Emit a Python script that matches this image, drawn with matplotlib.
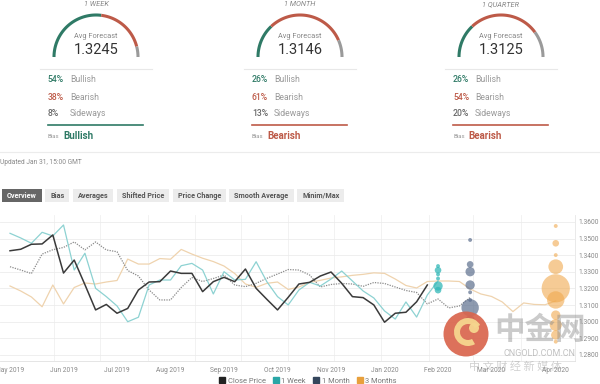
import numpy as np
import pandas as pd
import matplotlib
matplotlib.use('Agg')
import matplotlib.pyplot as plt
from matplotlib.patches import Circle, Wedge, FancyBboxPatch
from matplotlib.lines import Line2D

plt.rcParams['font.family'] = ['Roboto', 'DejaVu Sans']

# --- poll summary ---
horizons = ['1 WEEK', '1 MONTH', '1 QUARTER']
avg_forecast = [1.3245, 1.3146, 1.3125]
bullish = [54, 26, 26]
bearish = [38, 61, 54]
sideways = [8, 13, 20]
bias = ['Bullish', 'Bearish', 'Bearish']

tabs = ['Overview', 'Bias', 'Averages', 'Shifted Price', 'Price Change',
        'Smooth Average', 'Minim/Max']

# --- weekly series (week 0 = 3 May 2019) ---
close_price = [1.3427, 1.3436, 1.3466, 1.3468, 1.3522, 1.3293, 1.3371, 1.3223, 1.3071, 1.3104,
               1.3051, 1.3080, 1.3191, 1.3239, 1.3241, 1.3305, 1.3291, 1.3291, 1.3181, 1.3241,
               1.3267, 1.3241, 1.3317, 1.3201, 1.3135, 1.3071, 1.3147, 1.3227, 1.3237, 1.3275,
               1.3299, 1.3231, 1.3151, 1.3145, 1.3101, 1.2997, 1.3051, 1.3057, 1.3120, 1.3221]
week_avg = [1.3532, 1.3504, 1.3472, 1.3538, 1.3516, 1.3582, 1.3311, 1.3412, 1.3201, 1.3151,
            1.3095, 1.3000, 1.3027, 1.3221, 1.3251, 1.3251, 1.3337, 1.3351, 1.3311, 1.3167,
            1.3301, 1.3251, 1.3255, 1.3361, 1.3241, 1.3151, 1.3101, 1.3191, 1.3237, 1.3215,
            1.3257, 1.3305, 1.3245, 1.3185, 1.3143, 1.3065, 1.3016, 1.3119, 1.3028, 1.3161, 1.3245]
month_avg = [1.3331, 1.3311, 1.3290, 1.3407, 1.3433, 1.3447, 1.3480, 1.3432, 1.3480, 1.3432,
             1.3421, 1.3308, 1.3275, 1.3191, 1.3131, 1.3131, 1.3206, 1.3266, 1.3242, 1.3260,
             1.3281, 1.3221, 1.3211, 1.3231, 1.3261, 1.3287, 1.3314, 1.3311, 1.3281, 1.3209,
             1.3224, 1.3230, 1.3227, 1.3213, 1.3236, 1.3230, 1.3209, 1.3188, 1.3176, 1.3107,
             1.3137, 1.3083, 1.3095, 1.3146]
quarter_avg = [1.3215, 1.3185, 1.3149, 1.3090, 1.3221, 1.3107, 1.3206, 1.3233, 1.3227, 1.3239,
               1.3248, 1.3377, 1.3347, 1.3347, 1.3380, 1.3376, 1.3435, 1.3407, 1.3382, 1.3362,
               1.3335, 1.3290, 1.3227, 1.3207, 1.3231, 1.3239, 1.3194, 1.3209, 1.3236, 1.3249,
               1.3263, 1.3270, 1.3279, 1.3285, 1.3294, 1.3291, 1.3257, 1.3218, 1.3203, 1.3242,
               1.3245, 1.3245, 1.3242, 1.3197, 1.3167, 1.3152, 1.3119, 1.3061, 1.3113, 1.3104,
               1.3102, 1.3125]

# individual forecasts (value, number of participants)
week_fc = [1.3335, 1.3310, 1.3285, 1.3260, 1.3215, 1.3190]
week_cnt = [1, 2, 1, 1, 3, 2]
month_fc = [1.3492, 1.3345, 1.3301, 1.3221, 1.3177, 1.3131, 1.3084, 1.3010, 1.2970]
month_cnt = [1, 2, 3, 3, 1, 1, 6, 3, 1]
quarter_fc = [1.3576, 1.3472, 1.3401, 1.3331, 1.3201, 1.3131, 1.3040, 1.2980, 1.2920, 1.2880]
quarter_cnt = [1, 2, 1, 5, 10, 6, 3, 4, 3, 1]

tick_weeks = [0, 5, 10, 15, 20, 25, 30, 35, 40, 45, 51]
tick_labels = ['May 2019', 'Jun 2019', 'Jul 2019', 'Aug 2019', 'Sep 2019', 'Oct 2019',
               'Nov 2019', 'Jan 2020', 'Feb 2020', 'Mar 2020', 'Apr 2020']

series_names = ['Close Price', '1 Week', '1 Month', '3 Months']

GREEN, RED, GREY = '#2f7a66', '#bd5a48', '#9a9a9a'
bias_col = {'Bullish': GREEN, 'Bearish': RED}

fig = plt.figure(figsize=(6, 3.84), dpi=100)

# ---------- top panel (pixel coordinates) ----------
top = fig.add_axes([0, 0, 1, 1])
top.set_xlim(0, 600)
top.set_ylim(384, 0)
top.axis('off')

centers = [96, 300, 501]
for k, cx in enumerate(centers):
    cy, r = 57, 42
    parts = [bullish[k], bearish[k], sideways[k]]
    cols = [GREEN, RED, GREY]
    start = np.pi
    for p, c in zip(parts, cols):
        end = start - np.pi * p / 100
        t = np.linspace(start, end, 60)
        top.plot(cx + r * np.cos(t), cy - r * np.sin(t), color=c, lw=2.2,
                 solid_capstyle='butt')
        start = end
    top.text(cx, 4.5, horizons[k], ha='center', va='center', fontsize=5.3,
             style='italic', color='#888')
    top.text(cx, 37, 'Avg Forecast', ha='center', va='center', fontsize=5.3, color='#888')
    top.text(cx, 50, f'{avg_forecast[k]:.4f}', ha='center', va='center', fontsize=10.5,
             color='#333')
    top.plot([cx - 56, cx + 56], [69, 69], color='#e8e8e8', lw=0.8)
    rows = [(bullish[k], 'Bullish', GREEN), (bearish[k], 'Bearish', RED),
            (sideways[k], 'Sideways', '#666')]
    for j, (v, lab, c) in enumerate(rows):
        y = 80 + 17 * j
        top.text(cx - 48, y, f'{v}%', ha='left', va='center', fontsize=6.2,
                 color=c, fontweight='medium')
        top.text(cx - 26, y, lab, ha='left', va='center', fontsize=6.2, color='#999')
    top.plot([cx - 48, cx + 47], [125, 125], color=bias_col[bias[k]], lw=1.2)
    top.text(cx - 48, 136.5, 'Bias', ha='left', va='center', fontsize=4.3, color='#999')
    top.text(cx - 33, 136, bias[k], ha='left', va='center', fontsize=7,
             fontweight='bold', color=bias_col[bias[k]])

top.plot([0, 600], [152, 152], color='#ececec', lw=0.8)
top.text(0, 163, 'Updated Jan 31, 15:00 GMT', ha='left', va='center', fontsize=4.8,
         color='#888')

# tab buttons
fig.canvas.draw()
renderer = fig.canvas.get_renderer()
xc = 1.7
for i, name in enumerate(tabs):
    active = i == 0
    t = top.text(xc + 5, 195.5, name, ha='left', va='center', fontsize=5.2,
                 fontweight='bold', color='white' if active else '#555', zorder=3)
    w = t.get_window_extent(renderer=renderer).width
    top.add_patch(FancyBboxPatch((xc, 189.3), w + 10, 12.4,
                                 boxstyle='square,pad=0', lw=0,
                                 facecolor='#666' if active else '#ececec', zorder=2))
    xc += w + 10 + 3.5

# ---------- main chart ----------
ax = fig.add_axes([0, 23 / 384, 575 / 600, 146 / 384], facecolor='none')

ax.plot(np.arange(len(quarter_avg)), quarter_avg, color='#efd3ae', lw=0.9, zorder=2)
ax.plot(np.arange(len(month_avg)), month_avg, color='#8a8a8a', lw=0.9,
        linestyle=(0, (1, 1)), zorder=2)
ax.plot(np.arange(len(week_avg)), week_avg, color='#8dd2d2', lw=0.9, zorder=2)
ax.plot(np.arange(len(close_price)), close_price, color='#3a3a3a', lw=1.1, zorder=3)


def bubble_size(counts):
    r = 0.6 + 1.35 * np.asarray(counts, dtype=float)  # radius in px
    return (1.44 * r) ** 2


ax.scatter(np.full(len(week_fc), len(week_avg) - 1), week_fc, s=bubble_size(week_cnt),
           color='#33b8b8', alpha=0.75, lw=0, zorder=4)
ax.scatter(np.full(len(month_fc), len(month_avg) - 1), month_fc, s=bubble_size(month_cnt),
           color='#5d6f8e', alpha=0.7, lw=0, zorder=4)
ax.scatter(np.full(len(quarter_fc), len(quarter_avg) - 1), quarter_fc,
           s=bubble_size(quarter_cnt), color='#f0a94e', alpha=0.6, lw=0, zorder=4)

ax.set_xlim(-0.935, 52.8)
ax.set_ylim(1.27637, 1.36421)

# vertical grid at month starts
start = pd.Timestamp('2019-05-03')
months = pd.date_range('2019-06-01', '2020-04-01', freq='MS')
for m in (months - start).days / 7:
    ax.axvline(m, color='#f0f0f0', lw=0.6, zorder=0)

ax.set_yticks(np.arange(1.28, 1.36001, 0.01))
ax.set_yticklabels([f'{v:.4f}' for v in np.arange(1.28, 1.36001, 0.01)])
ax.yaxis.tick_right()
ax.grid(axis='y', color='#ececec', lw=0.6, zorder=0)
ax.set_xticks(tick_weeks)
ax.set_xticklabels(tick_labels)
ax.tick_params(axis='both', length=0, labelsize=4.8, labelcolor='#888')
ax.tick_params(axis='y', pad=2.5)
ax.tick_params(axis='x', pad=4)
for s in ['left', 'top']:
    ax.spines[s].set_visible(False)
ax.spines['bottom'].set_color('#e0e0e0')
ax.spines['right'].set_color('#e6e6e6')
ax.spines['bottom'].set_linewidth(0.6)
ax.spines['right'].set_linewidth(0.6)

handles = [Line2D([], [], marker='s', linestyle='none', color=c, markersize=4)
           for c in ['#222222', '#2aa6a6', '#34465c', '#e8a03c']]
fig.legend(handles, series_names, loc='center', bbox_to_anchor=(308 / 600, 1 - 381 / 384),
           ncol=4, frameon=False, fontsize=5.4, handletextpad=0.3, columnspacing=1.0,
           labelcolor='#777', handlelength=0.8)

# ---------- watermark ----------
wm = fig.add_axes([0, 0, 1, 1], facecolor='none')
wm.set_xlim(0, 600)
wm.set_ylim(384, 0)
wm.axis('off')
wm.add_patch(Circle((466, 334), 22.5, color='#d9654d', alpha=0.92, lw=0))
wm.add_patch(Wedge((468, 332), 14, 60, 330, width=6, color='#f6d68e', alpha=0.95, lw=0))
wm.add_patch(Circle((474, 328), 5, color='#f6d68e', alpha=0.95, lw=0))
wm.text(540, 330, '中金网', ha='center', va='center', fontsize=22, fontweight='bold',
        family=['Noto Sans CJK SC'], color='#8c8c8c', alpha=0.45)
wm.text(539, 353, 'CNGOLD.COM.CN', ha='center', va='center', fontsize=6.5,
        color='#9a9a9a', alpha=0.6)
wm.text(515, 366, '中 文 财 经 新 媒 体', ha='center', va='center', fontsize=8,
        family=['Noto Sans CJK SC'], color='#9a9a9a', alpha=0.45)

fig.savefig('out.png', dpi=100)
